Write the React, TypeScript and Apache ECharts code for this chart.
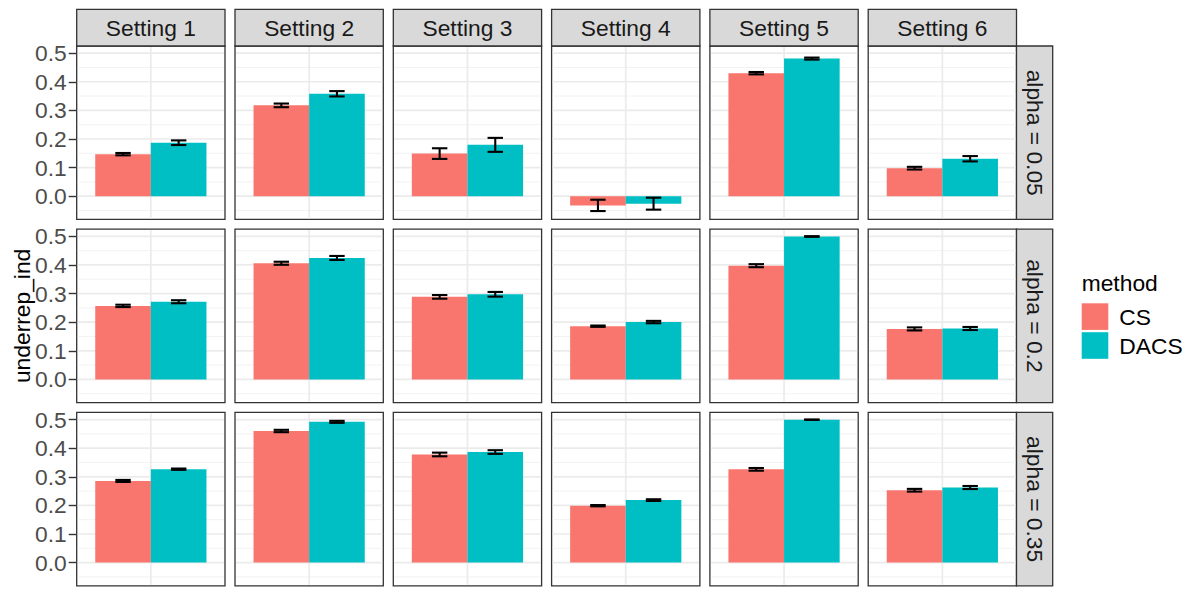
import React, { useEffect, useRef } from "react";
import * as echarts from "echarts";

// ---------- data ----------
const settings = ["Setting 1", "Setting 2", "Setting 3", "Setting 4", "Setting 5", "Setting 6"];
const alphaLabels = ["alpha = 0.05", "alpha = 0.2", "alpha = 0.35"];
const methods = ["CS", "DACS"];
const methodColors = ["#F8766D", "#00BFC4"];

// alpha = 0.05
const csMeanA005 = [0.147, 0.3175, 0.149, -0.032, 0.430, 0.098];
const csErrA005 = [0.0041, 0.0064, 0.0186, 0.0198, 0.0041, 0.0047];
const dacsMeanA005 = [0.187, 0.358, 0.1795, -0.026, 0.481, 0.131];
const dacsErrA005 = [0.0081, 0.0093, 0.0244, 0.0209, 0.0035, 0.0093];

// alpha = 0.2
const csMeanA02 = [0.257, 0.406, 0.2885, 0.186, 0.3975, 0.1765];
const csErrA02 = [0.0041, 0.0053, 0.0064, 0.0023, 0.0053, 0.0053];
const dacsMeanA02 = [0.2715, 0.4245, 0.2975, 0.2005, 0.4995, 0.178];
const dacsErrA02 = [0.0053, 0.007, 0.0082, 0.0041, 0.0012, 0.0053];

// alpha = 0.35
const csMeanA035 = [0.2855, 0.46, 0.378, 0.199, 0.326, 0.253];
const csErrA035 = [0.0035, 0.0041, 0.0064, 0.0023, 0.0047, 0.0047];
const dacsMeanA035 = [0.3265, 0.492, 0.3865, 0.2185, 0.4995, 0.2625];
const dacsErrA035 = [0.0023, 0.0035, 0.0064, 0.0029, 0.0005, 0.0053];

const yTicks = [0, 0.1, 0.2, 0.3, 0.4, 0.5];
const yMinorBreaks = [-0.05, 0.05, 0.15, 0.25, 0.35, 0.45];
const yMin = -0.081;
const yMax = 0.525;

const yTitle = "underrep_ind";
const legendTitle = "method";

// ---------- layout ----------
const FONT = "'Liberation Sans', Arial, Helvetica, sans-serif";
const FS = 22.8;
const panelW = 148.3;
const panelH = 173.4;
const colLeft = (c: number) => 76.7 + c * 158.3;
const rowTops = [46, 229.2, 412.4];
const stripTop = 9.3;
const stripRightX = 1016.5;
const stripW = 36.2;

const meansByRow = [
  [csMeanA005, dacsMeanA005],
  [csMeanA02, dacsMeanA02],
  [csMeanA035, dacsMeanA035],
];
const errsByRow = [
  [csErrA005, dacsErrA005],
  [csErrA02, dacsErrA02],
  [csErrA035, dacsErrA035],
];

function buildOption() {
  const grid: any[] = [];
  const xAxis: any[] = [];
  const yAxis: any[] = [];
  const series: any[] = [];
  const graphic: any[] = [];

  const gridData: any[] = [];
  yTicks.forEach((v) => gridData.push([0, v, 0]));
  yMinorBreaks.forEach((v) => gridData.push([0, v, 1]));
  gridData.push([0, 0, 2]);

  for (let r = 0; r < 3; r++) {
    for (let c = 0; c < 6; c++) {
      const k = r * 6 + c;
      grid.push({
        left: colLeft(c),
        top: rowTops[r],
        width: panelW,
        height: panelH,
        show: true,
        backgroundColor: "#FFFFFF",
        borderColor: "#333333",
        borderWidth: 1.3,
        containLabel: false,
      });
      xAxis.push({
        type: "category",
        gridIndex: k,
        data: [settings[c]],
        show: false,
        boundaryGap: true,
      });
      yAxis.push({
        type: "value",
        gridIndex: k,
        min: yMin,
        max: yMax,
        axisLine: { show: false },
        splitLine: { show: false },
        axisTick: {
          show: c === 0,
          length: 8,
          customValues: yTicks,
          lineStyle: { color: "#333333", width: 1.4 },
        },
        axisLabel: {
          show: c === 0,
          customValues: yTicks,
          formatter: (v: number) => v.toFixed(1),
          fontSize: FS,
          fontFamily: FONT,
          color: "#4D4D4D",
          margin: 10,
        },
      });

      // grid lines
      series.push({
        type: "custom",
        xAxisIndex: k,
        yAxisIndex: k,
        z: 1,
        silent: true,
        data: gridData,
        renderItem: (params: any, api: any) => {
          const cs = params.coordSys;
          const kind = api.value(2);
          if (kind === 2) {
            const px = api.coord([0, 0])[0];
            return {
              type: "line",
              shape: { x1: px, y1: cs.y + 1, x2: px, y2: cs.y + cs.height - 1 },
              style: { stroke: "#EBEBEB", lineWidth: 1.7 },
            };
          }
          const py = api.coord([0, api.value(1)])[1];
          return {
            type: "line",
            shape: { x1: cs.x + 1, y1: py, x2: cs.x + cs.width - 1, y2: py },
            style: { stroke: kind === 0 ? "#EBEBEB" : "#F0F0F0", lineWidth: kind === 0 ? 1.7 : 0.9 },
          };
        },
      });

      // bars
      for (let m = 0; m < 2; m++) {
        series.push({
          type: "bar",
          name: methods[m],
          xAxisIndex: k,
          yAxisIndex: k,
          z: 2,
          barGap: "0%",
          barCategoryGap: "25%",
          itemStyle: { color: methodColors[m] },
          data: [meansByRow[r][m][c]],
        });
      }

      // error bars
      const ebData = [0, 1].map((m) => {
        const mean = meansByRow[r][m][c];
        const e = errsByRow[r][m][c];
        return [0, mean - e, mean + e, m];
      });
      series.push({
        type: "custom",
        xAxisIndex: k,
        yAxisIndex: k,
        z: 3,
        silent: true,
        data: ebData,
        renderItem: (params: any, api: any) => {
          const band = api.size([1, 0])[0];
          const lo = api.coord([0, api.value(1)]);
          const hi = api.coord([0, api.value(2)]);
          const m = api.value(3);
          const cx = lo[0] + (m === 0 ? -0.1875 : 0.1875) * band;
          const half = 0.052 * band;
          const st = { stroke: "#000000", lineWidth: 2.1 };
          return {
            type: "group",
            children: [
              { type: "line", shape: { x1: cx, y1: lo[1], x2: cx, y2: hi[1] }, style: st },
              { type: "line", shape: { x1: cx - half, y1: lo[1], x2: cx + half, y2: lo[1] }, style: st },
              { type: "line", shape: { x1: cx - half, y1: hi[1], x2: cx + half, y2: hi[1] }, style: st },
            ],
          };
        },
      });
    }
  }

  // top strips
  for (let c = 0; c < 6; c++) {
    const x = colLeft(c);
    graphic.push({
      type: "rect",
      shape: { x, y: stripTop, width: panelW, height: rowTops[0] - stripTop },
      style: { fill: "#D9D9D9", stroke: "#333333", lineWidth: 1.3 },
    });
    graphic.push({
      type: "text",
      x: x + panelW / 2,
      y: (stripTop + rowTops[0]) / 2 + 0.5,
      style: {
        text: settings[c],
        fontSize: FS,
        fontFamily: FONT,
        fill: "#1A1A1A",
        align: "center",
        verticalAlign: "middle",
      },
    });
  }
  // right strips
  for (let r = 0; r < 3; r++) {
    graphic.push({
      type: "rect",
      shape: { x: stripRightX, y: rowTops[r], width: stripW, height: panelH },
      style: { fill: "#D9D9D9", stroke: "#333333", lineWidth: 1.3 },
    });
    graphic.push({
      type: "text",
      x: stripRightX + stripW / 2 + 0.5,
      y: rowTops[r] + panelH / 2,
      rotation: -Math.PI / 2,
      style: {
        text: alphaLabels[r],
        fontSize: FS,
        fontFamily: FONT,
        fill: "#1A1A1A",
        align: "center",
        verticalAlign: "middle",
      },
    });
  }
  // y title
  graphic.push({
    type: "text",
    x: 22,
    y: (rowTops[0] + rowTops[2] + panelH) / 2,
    rotation: Math.PI / 2,
    style: {
      text: yTitle,
      fontSize: FS,
      fontFamily: FONT,
      fill: "#000000",
      align: "center",
      verticalAlign: "middle",
    },
  });
  // legend
  graphic.push({
    type: "text",
    x: 1081.7,
    y: 283.3,
    style: { text: legendTitle, fontSize: FS, fontFamily: FONT, fill: "#000000", align: "left", verticalAlign: "middle" },
  });
  const keyTops = [303.3, 332.2];
  for (let m = 0; m < 2; m++) {
    graphic.push({
      type: "rect",
      shape: { x: 1081.7, y: keyTops[m], width: 26.6, height: 26.6 },
      style: { fill: methodColors[m] },
    });
    graphic.push({
      type: "text",
      x: 1119.3,
      y: keyTops[m] + 13.3,
      style: { text: methods[m], fontSize: FS, fontFamily: FONT, fill: "#000000", align: "left", verticalAlign: "middle" },
    });
  }

  return {
    animation: false,
    backgroundColor: "#FFFFFF",
    grid,
    xAxis,
    yAxis,
    series,
    graphic,
  };
}

export default function App() {
  const ref = useRef<HTMLDivElement>(null);
  useEffect(() => {
    if (!ref.current) return;
    const chart = echarts.init(ref.current, undefined, { renderer: "svg" });
    chart.setOption(buildOption() as any);
    return () => chart.dispose();
  }, []);
  return (
    <div
      ref={ref}
      style={{ position: "fixed", left: 0, top: 0, width: 1200, height: 600 }}
    />
  );
}
